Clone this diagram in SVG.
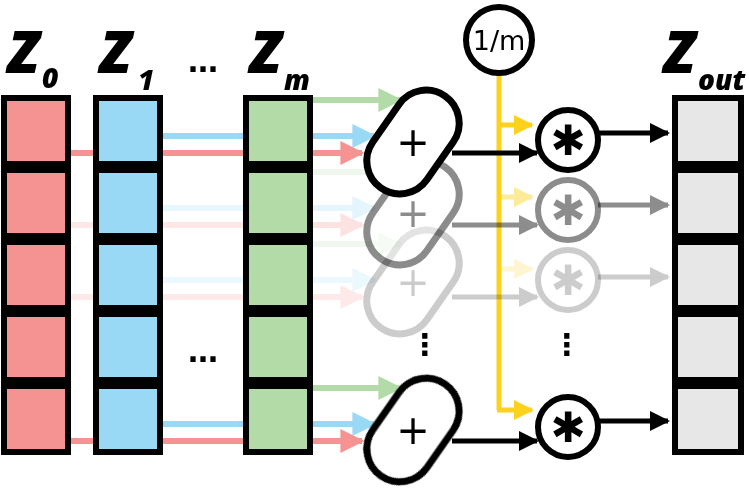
<svg xmlns="http://www.w3.org/2000/svg" width="749" height="496" viewBox="0 0 749 496">
<style>
.cell{stroke:#000;stroke-width:6}
.r{fill:#f59393}.b{fill:#9ad9f6}.g{fill:#b3dba8}.w{fill:#e6e7e6}
.lbl{font-family:"Open Sans","DejaVu Sans",sans-serif;font-weight:800;font-style:italic;fill:#000}
.pill{fill:#fff;stroke:#000;stroke-width:7}
.circ{fill:#fff;stroke:#000;stroke-width:6}
.t{font-family:"DejaVu Sans",sans-serif;text-anchor:middle;fill:#000}
.lr{stroke:#f59393;stroke-width:6}.lb{stroke:#9ad9f6;stroke-width:6}.lg{stroke:#b3dba8;stroke-width:6}
.lk{stroke:#000;stroke-width:5}.ly{stroke:#fcd21c;stroke-width:5}
</style>
<defs>
<marker id="ar" viewBox="0 0 10 10" refX="9" refY="5" markerWidth="4" markerHeight="4" orient="auto"><path d="M0,0L10,5L0,10z" fill="#f59393"/></marker>
<marker id="ab" viewBox="0 0 10 10" refX="9" refY="5" markerWidth="4" markerHeight="4" orient="auto"><path d="M0,0L10,5L0,10z" fill="#9ad9f6"/></marker>
<marker id="ag" viewBox="0 0 10 10" refX="9" refY="5" markerWidth="4" markerHeight="4" orient="auto"><path d="M0,0L10,5L0,10z" fill="#b3dba8"/></marker>
<marker id="ak" viewBox="0 0 10 10" refX="9" refY="5" markerWidth="4" markerHeight="4" orient="auto"><path d="M0,0L10,5L0,10z" fill="#000"/></marker>
<marker id="ay" viewBox="0 0 10 10" refX="9" refY="5" markerWidth="4" markerHeight="4" orient="auto"><path d="M0,0L10,5L0,10z" fill="#fcd21c"/></marker>
</defs>
<g id="connectors">
<line class="ly" x1="499" y1="70" x2="499" y2="410"/>
<g id="row1">
<line class="lr" x1="70" y1="153" x2="94" y2="153"/>
<line class="lb" x1="162" y1="136" x2="244" y2="136"/>
<line class="lr" x1="162" y1="153" x2="244" y2="153"/>
<line class="lg" x1="312" y1="100" x2="400" y2="100" marker-end="url(#ag)"/>
<line class="lb" x1="312" y1="136" x2="374" y2="136" marker-end="url(#ab)"/>
<line class="lr" x1="312" y1="153" x2="362" y2="153" marker-end="url(#ar)"/>
<line class="ly" x1="499" y1="125" x2="532" y2="125" marker-end="url(#ay)"/>
<line class="lk" x1="452" y1="153" x2="537" y2="153" marker-end="url(#ak)"/>
<line class="lk" x1="598" y1="133" x2="668" y2="133" marker-end="url(#ak)"/>
</g>
<g id="row2" opacity="0.45">
<line class="lr" x1="70" y1="225" x2="94" y2="225" opacity="0.5"/>
<line class="lb" x1="162" y1="208" x2="244" y2="208" opacity="0.5"/>
<line class="lr" x1="162" y1="225" x2="244" y2="225" opacity="0.5"/>
<line class="lg" x1="312" y1="172" x2="400" y2="172" marker-end="url(#ag)" opacity="0.5"/>
<line class="lb" x1="312" y1="208" x2="374" y2="208" marker-end="url(#ab)" opacity="0.6"/>
<line class="lr" x1="312" y1="225" x2="362" y2="225" marker-end="url(#ar)" opacity="0.6"/>
<line class="ly" x1="499" y1="197" x2="532" y2="197" marker-end="url(#ay)"/>
<line class="lk" x1="452" y1="225" x2="537" y2="225" marker-end="url(#ak)"/>
<line class="lk" x1="598" y1="205" x2="668" y2="205" marker-end="url(#ak)"/>
</g>
<g id="row3" opacity="0.2">
<line class="lr" x1="70" y1="297" x2="94" y2="297"/>
<line class="lb" x1="162" y1="280" x2="244" y2="280"/>
<line class="lr" x1="162" y1="297" x2="244" y2="297"/>
<line class="lg" x1="312" y1="244" x2="400" y2="244" marker-end="url(#ag)"/>
<line class="lb" x1="312" y1="280" x2="374" y2="280" marker-end="url(#ab)"/>
<line class="lr" x1="312" y1="297" x2="362" y2="297" marker-end="url(#ar)"/>
<line class="ly" x1="499" y1="269" x2="532" y2="269" marker-end="url(#ay)"/>
<line class="lk" x1="452" y1="297" x2="537" y2="297" marker-end="url(#ak)"/>
<line class="lk" x1="598" y1="277" x2="668" y2="277" marker-end="url(#ak)"/>
</g>
<g id="row5">
<line class="lr" x1="70" y1="441" x2="94" y2="441"/>
<line class="lb" x1="162" y1="424" x2="244" y2="424"/>
<line class="lr" x1="162" y1="441" x2="244" y2="441"/>
<line class="lg" x1="312" y1="388" x2="400" y2="388" marker-end="url(#ag)"/>
<line class="lb" x1="312" y1="424" x2="374" y2="424" marker-end="url(#ab)"/>
<line class="lr" x1="312" y1="441" x2="362" y2="441" marker-end="url(#ar)"/>
<line class="ly" x1="497" y1="410" x2="532" y2="410" marker-end="url(#ay)"/>
<line class="lk" x1="452" y1="441" x2="537" y2="441" marker-end="url(#ak)"/>
<line class="lk" x1="598" y1="421" x2="668" y2="421" marker-end="url(#ak)"/>
</g>
</g>
<g id="Z0">
<rect class="cell r" x="4" y="98" width="64" height="66"/><rect class="cell r" x="4" y="170" width="64" height="66"/><rect class="cell r" x="4" y="242" width="64" height="66"/><rect class="cell r" x="4" y="314" width="64" height="66"/><rect class="cell r" x="4" y="386" width="64" height="66"/>
<text class="lbl" x="8" y="73" font-size="58">Z</text><text class="lbl" x="42" y="88" font-size="28">0</text>
</g>
<g id="Z1">
<rect class="cell b" x="96" y="98" width="64" height="66"/><rect class="cell b" x="96" y="170" width="64" height="66"/><rect class="cell b" x="96" y="242" width="64" height="66"/><rect class="cell b" x="96" y="314" width="64" height="66"/><rect class="cell b" x="96" y="386" width="64" height="66"/>
<text class="lbl" x="100" y="73" font-size="58">Z</text><text class="lbl" x="138" y="90" font-size="28">1</text>
</g>
<g id="Zm">
<rect class="cell g" x="246" y="98" width="64" height="66"/><rect class="cell g" x="246" y="170" width="64" height="66"/><rect class="cell g" x="246" y="242" width="64" height="66"/><rect class="cell g" x="246" y="314" width="64" height="66"/><rect class="cell g" x="246" y="386" width="64" height="66"/>
<text class="lbl" x="250" y="73" font-size="58">Z</text><text class="lbl" x="284" y="90" font-size="28">m</text>
</g>
<g id="dots">
<text class="t" x="203" y="72" font-size="30" font-weight="bold">…</text>
<text class="t" x="203" y="362" font-size="30" font-weight="bold">…</text>
<text class="t" x="425" y="355" font-size="30" font-weight="bold">⋮</text>
<text class="t" x="567" y="355" font-size="30" font-weight="bold">⋮</text>
</g>
<g id="Zout">
<rect class="cell w" x="675" y="98" width="66" height="66"/><rect class="cell w" x="675" y="170" width="66" height="66"/><rect class="cell w" x="675" y="242" width="66" height="66"/><rect class="cell w" x="675" y="314" width="66" height="66"/><rect class="cell w" x="675" y="386" width="66" height="66"/>
<text class="lbl" x="664" y="73" font-size="58">Z</text><text class="lbl" x="698" y="90" font-size="28">out</text>
</g>
<g id="sum3" opacity="0.2"><rect class="pill" x="357" y="249" width="112" height="66" rx="33" transform="rotate(-55 413 282)"/><text class="t" x="413" y="296" font-size="40">+</text></g>
<g id="sum2" opacity="0.45"><rect class="pill" x="357" y="180" width="112" height="66" rx="33" transform="rotate(-55 413 213)"/><text class="t" x="413" y="227" font-size="40">+</text></g>
<g id="sum1"><rect class="pill" x="357" y="109" width="112" height="66" rx="33" transform="rotate(-55 413 142)"/><text class="t" x="413" y="156" font-size="40">+</text></g>
<g id="sum5"><rect class="pill" x="357" y="397" width="112" height="66" rx="33" transform="rotate(-55 413 430)"/><text class="t" x="413" y="444" font-size="40">+</text></g>
<g id="inv"><circle class="circ" cx="499" cy="40" r="33"/><text class="t" x="499" y="50" font-size="27" font-family="Open Sans">1/m</text></g>
<g id="mul1"><circle class="circ" cx="568" cy="140" r="30"/><text class="t" x="568" y="155" font-size="42">✱</text></g>
<g id="mul2" opacity="0.45"><circle class="circ" cx="568" cy="210" r="30"/><text class="t" x="568" y="225" font-size="42">✱</text></g>
<g id="mul3" opacity="0.2"><circle class="circ" cx="568" cy="280" r="30"/><text class="t" x="568" y="295" font-size="42">✱</text></g>
<g id="mul5"><circle class="circ" cx="568" cy="427" r="30"/><text class="t" x="568" y="442" font-size="42">✱</text></g>
</svg>
